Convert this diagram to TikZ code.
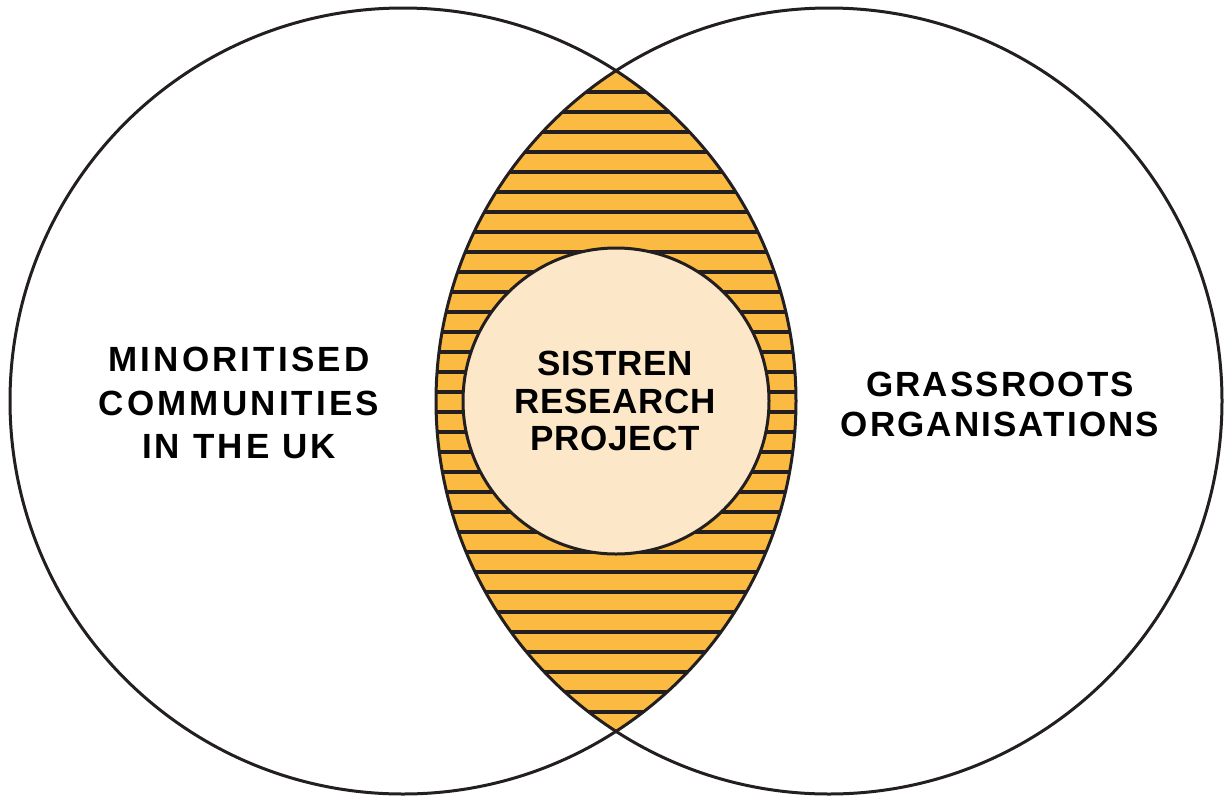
\documentclass[tikz,border=0pt]{standalone}
\usepackage{fontspec}
\setmainfont{Liberation Sans}
\newfontfamily\leftfont[LetterSpace=9]{Liberation Sans}
\newfontfamily\rightfont[LetterSpace=6]{Liberation Sans}
\newfontfamily\centrefont[LetterSpace=2]{Liberation Sans}
\definecolor{lensorange}{HTML}{FBBA42}
\definecolor{innerfill}{HTML}{FCE8C8}
\definecolor{ink}{HTML}{231F20}
\begin{document}
\begin{tikzpicture}[x=1pt,y=-1pt,
  outline/.style={draw=ink,line width=3pt},
  stripe/.style={draw=ink,line width=3.2pt},
  label/.style={align=center,text=black,inner sep=0pt}]
\useasboundingbox (0,0) rectangle (1224,796);
\coordinate (L) at (403,401);
\coordinate (R) at (829,401);
% lens fill
\begin{scope}
  \clip (L) circle[radius=393];
  \fill[lensorange] (R) circle[radius=393];
  \clip (R) circle[radius=393];
  \foreach \y in {92,112,...,712} {
    \draw[stripe] (200,\y) -- (1000,\y);
  }
\end{scope}
% inner circle
\fill[innerfill] (616,401) circle[radius=153];
\draw[outline] (616,401) circle[radius=153];
% outer circles
\draw[outline] (L) circle[radius=393];
\draw[outline] (R) circle[radius=393];
% labels
\node[label,font=\leftfont\bfseries\fontsize{35}{43.5}\selectfont] (left) at (239,403) {MINORITISED\\COMMUNITIES\\IN THE UK};
\node[label,font=\rightfont\bfseries\fontsize{35}{40}\selectfont] (right) at (1000,404) {GRASSROOTS\\ORGANISATIONS};
\node[label,font=\centrefont\bfseries\fontsize{35}{37.5}\selectfont] (centre) at (615,401) {SISTREN\\RESEARCH\\PROJECT};
\end{tikzpicture}
\end{document}
